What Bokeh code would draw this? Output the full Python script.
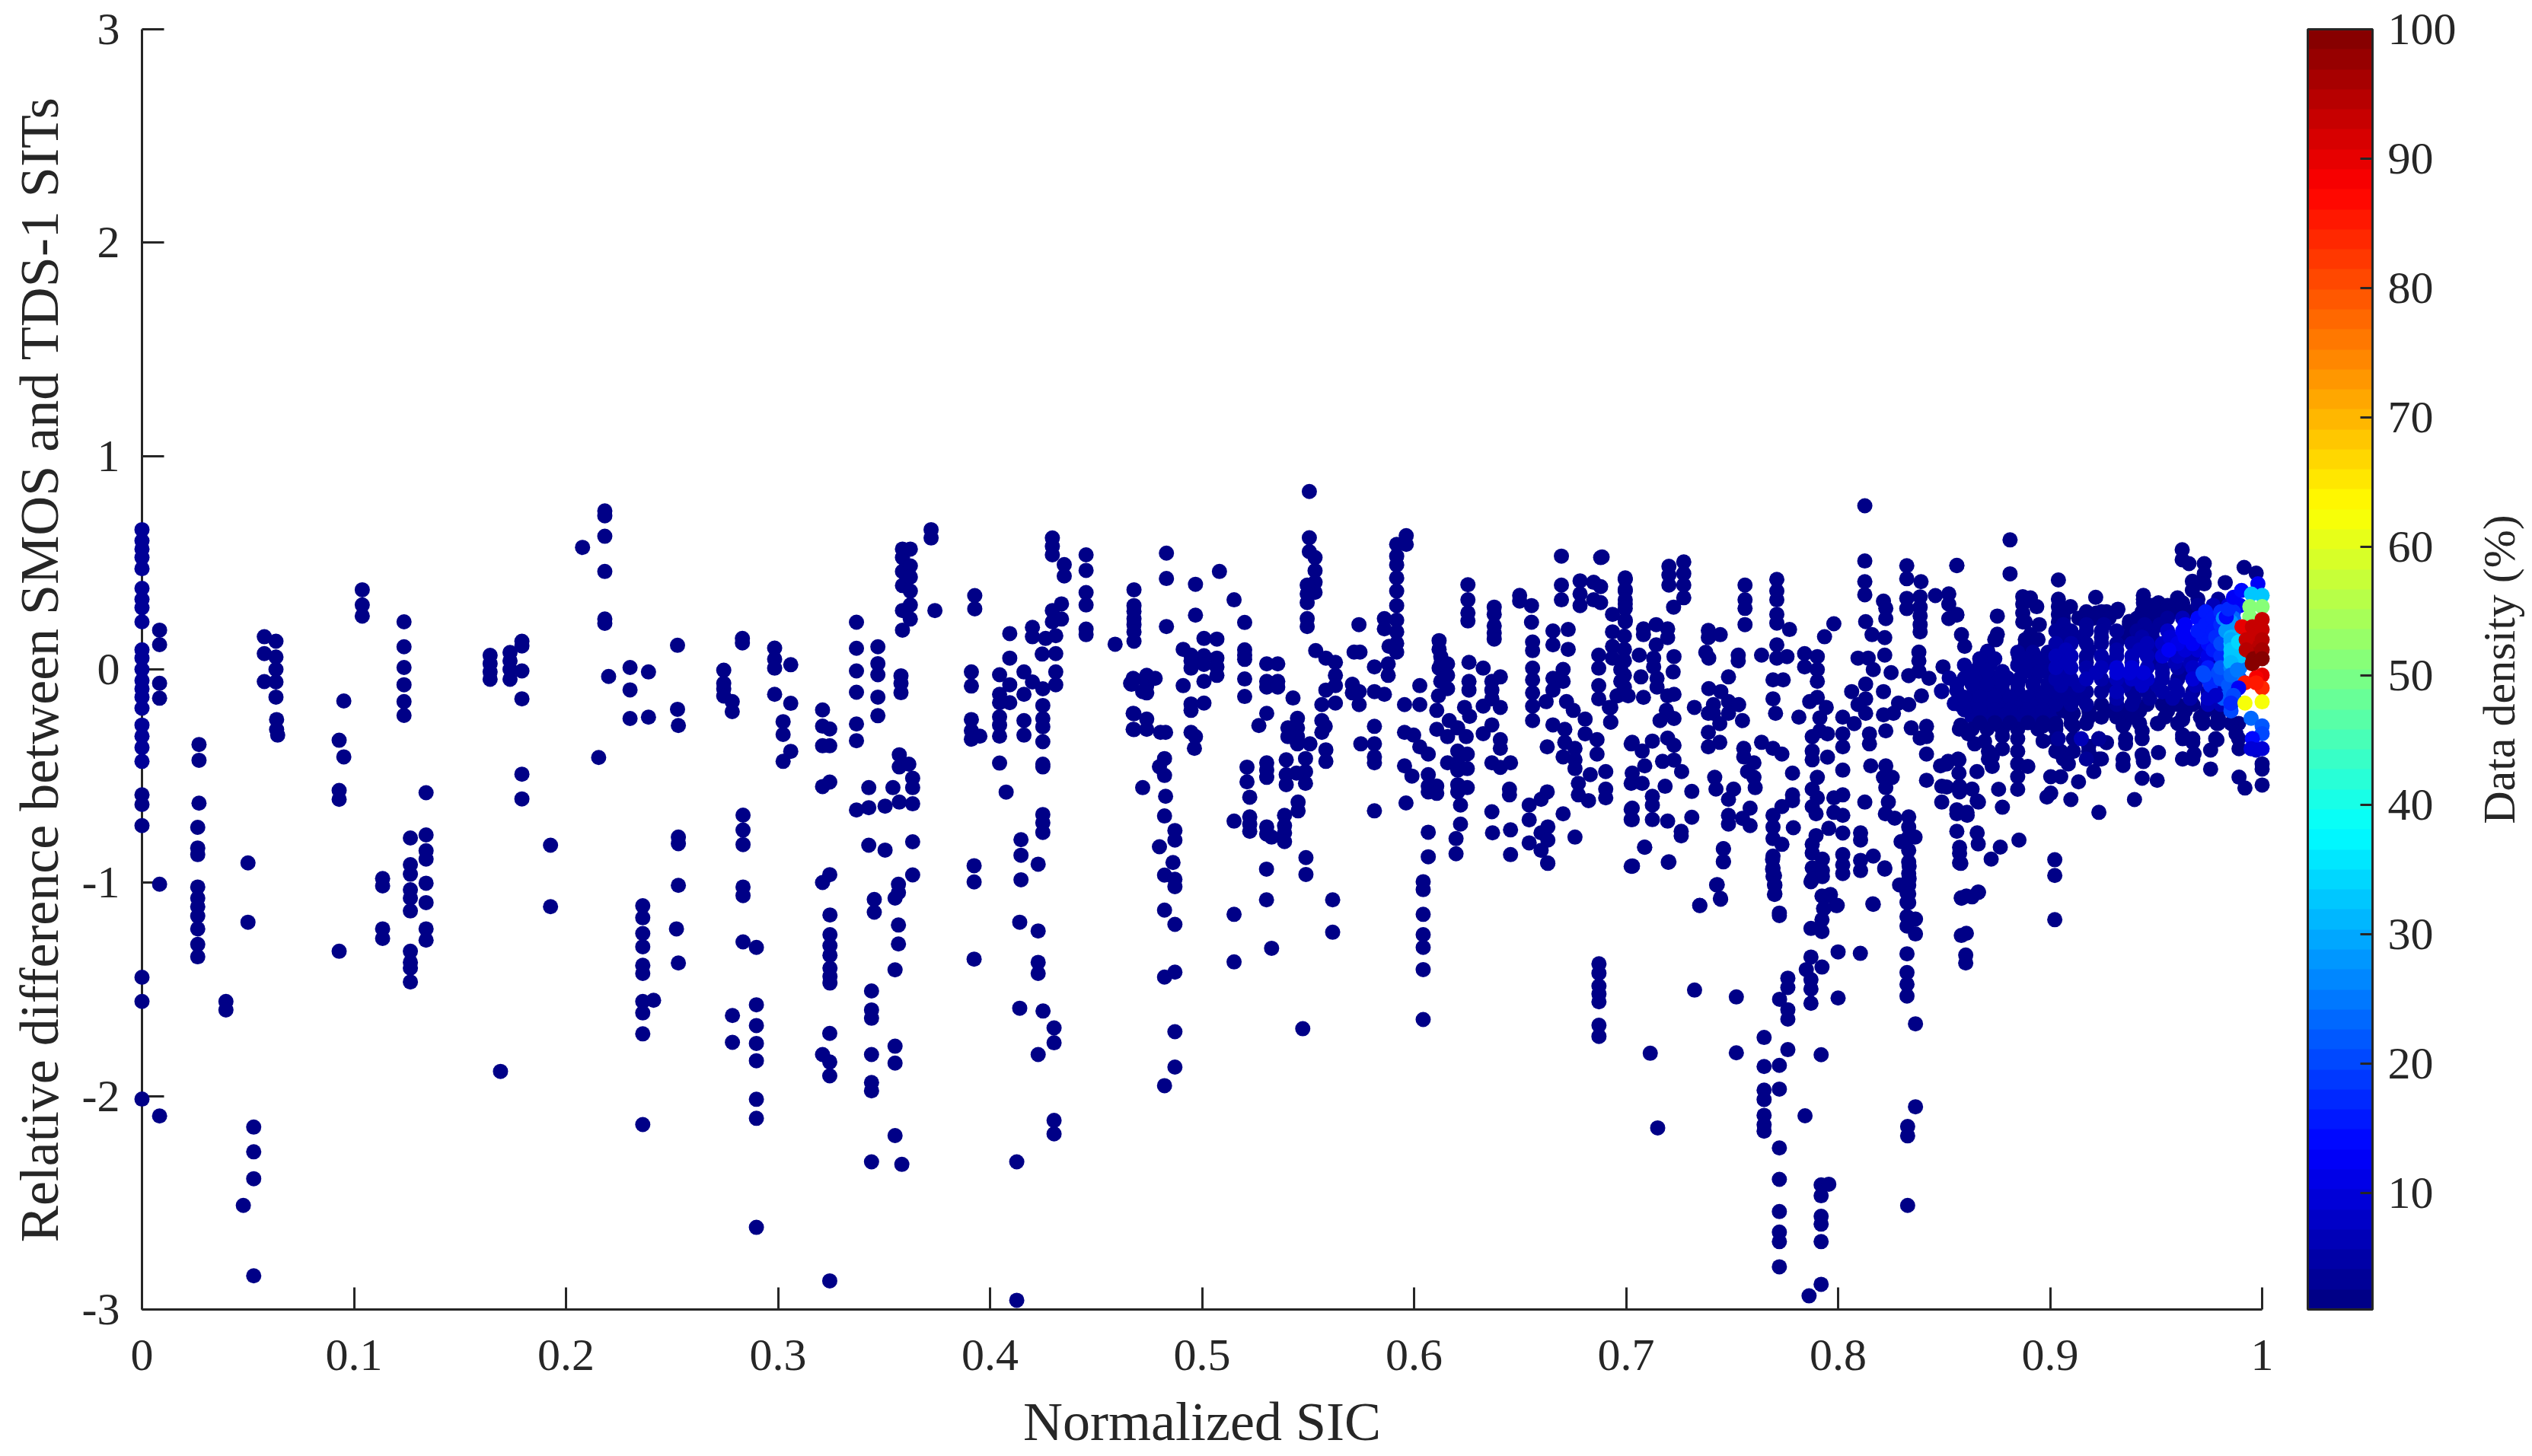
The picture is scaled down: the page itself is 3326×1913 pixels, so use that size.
from bokeh.plotting import figure
from bokeh.models import ColumnDataSource, LinearColorMapper, ColorBar, FixedTicker
from bokeh.transform import transform
from bokeh.core.properties import value
from bokeh.embed import file_html
from bokeh.resources import INLINE
import math

x_tick_values = [0, .1, .2, .3, .4, .5, .6, .7, .8, .9, 1]
x_tick_labels = ["0", "0.1", "0.2", "0.3", "0.4", "0.5", "0.6", "0.7", "0.8", "0.9", "1"]
y_tick_values = [-3, -2, -1, 0, 1, 2, 3]
y_tick_labels = ["-3", "-2", "-1", "0", "1", "2", "3"]
bar_ticks = [10, 20, 30, 40, 50, 60, 70, 80, 90, 100]

# Normalized SIC, relative differences, data density (%) per vertical run of points
edge_col = [(0.0, [.655,.603,.564,.524,.472,.38,.328,.289,.223,.092,.053,0,-.052,-.091,-.13,-.182,-.261,-.313,-.366,-.431], 4),
 (0.0, [-.588,-.633,-.732,-1.443,-1.556,-2.014], 1)]

sparse_low = [
 (.0083,[.184,.116,-.065,-.135,-1.007,-2.093]),(.0269,[-.352,-.426,-.627]),
 (.0263,[-.74,-.837,-.868,-1.02,-1.072,-1.112,-1.156,-1.216,-1.289,-1.347]),(.0396,[-1.556,-1.596]),
 (.05,[-.907,-1.185]),(.0478,[-2.512]),(.0527,[-2.145,-2.261,-2.387,-2.842]),(.0577,[.153,.074,-.057]),
 (.0632,[.132,.058,0,-.059,-.13]),(.0635,[-.235,-.282]),(.064,[-.308]),(.093,[-.332,-.567,-.609,-1.321]),
 (.0952,[-.148,-.41]),(.1039,[.373,.302,.25]),(.1135,[-.98,-1.015,-1.216,-1.261]),
 (.1236,[.223,.106,.009,-.072,-.151,-.216]),(.1266,[-.79,-.915,-.96,-1.033,-1.072,-1.132,-1.321,-1.373,-1.4,-1.465]),
 (.134,[-.578,-.776,-.85,-.889,-1.002,-1.093,-1.216,-1.269]),(.1642,[.066,.027,-.012,-.046]),(.1691,[-1.884]),
 (.1736,[.079,.04,0,-.046]),(.1792,[.132,.11,-.007,-.138,-.491,-.607]),(.1927,[-.824,-1.112]),(.2078,[.572]),
 (.2183,[.743,.72,.624,.459,.236,.216]),(.2201,[-.033]),(.2154,[-.413]),(.2302,[.009,-.096,-.23]),
 (.2389,[-.012,-.224]),(.2362,[-1.108,-1.164,-1.238,-1.3,-1.387,-1.425,-1.556,-1.61,-1.708,-2.133]),(.2413,[-1.551]),
 (.2526,[.113,-.187]),(.253,[-.263,-.786,-.817,-1.012,-1.376]),(.2521,[-1.216]),(.2744,[-.004,-.065,-.091,-.125]),
 (.2784,[-.151,-.198]),(.2832,[.145,.124]),(.2835,[-.683,-.753,-.821,-1.02,-1.06,-1.277]),
 (.2898,[-1.303,-1.572,-1.669,-1.753,-1.834,-2.015,-2.104,-2.615]),(.2785,[-1.622,-1.748]),
 (.2984,[.1,.048,.006,-.117]),(.306,[.022,-.159,-.384]),(.3024,[-.245,-.305,-.431]),
 (.321,[-.19,-.266,-.358,-.549,-.999,-1.805]),(.3244,[-.279,-.358,-.528,-.962,-1.706,-1.84,-1.905,-2.866]),
 (.3245,[-1.151,-1.243,-1.295,-1.34,-1.4,-1.439,-1.47]),(.337,[.221,.099,-.007,-.107,-.256,-.334,-.659]),
 (.3471,[.106,.027,-.025,-.13,-.217]),(.3428,[-.554,-.648,-.824]),(.3505,[-.641,-.847]),(.3542,[-.554]),
 (.3572,[-.4,-.457,-.622]),(.3617,[-.444]),(.3635,[-.51,-.554,-.63,-.808,-.963]),(.3454,[-1.078,-1.138]),
 (.3568,[-1.007,-1.046,-1.198,-1.287]),(.3552,[-1.072,-1.408,-1.766,-1.845,-2.185]),
 (.3441,[-1.507,-1.596,-1.635,-1.805,-1.936,-1.975,-2.308]),(.3584,[-2.32]),(.3587,[.564,.524,.459,.393,.276,.184]),
 (.3624,[.564,.485,.433,.367,.302,.236]),(.358,[-.03,-.065,-.109]),(.3722,[.655,.616]),(.374,[.276]),
 (.3928,[.346,.284]),(.3912,[-.012,-.078,-.235,-.287,-.327]),(.3952,[-.313]),(.3925,[-.92,-.996,-1.358]),
 (.4126,[-2.308,-2.957]),(.4093,[.168,.053,-.072,-.156]),(.4045,[-.025,-.117,-.156,-.222,-.261,-.313,-.439]),
 (.4076,[-.575]),(.416,[-.012,-.117,-.24,-.308]),(.4146,[-.798,-.871,-.986]),(.414,[-1.185,-1.588]),
 (.42,[.197,.153,-.059]),(.4262,[.145]),(.4246,[.072]),(.4249,[-.091,-.169,-.23,-.269,-.339,-.444,-.457,-.68,-.719,-.764]),
 (.4227,[-.913,-1.226,-1.373,-1.425,-1.805]),(.425,[-1.601]),(.4302,[-1.68,-1.75,-2.114,-2.177]),
 (.431,[.158,.074,-.012,-.072]),(.4294,[.616,.577,.537,.276,.223]),(.435,[.491,.438]),(.4337,[.307,.236]),
 (.4453,[.537,.464,.36,.302,.189,.163]),(.459,[.118]),(.4679,[.373,.299,.272,.238,.21,.176,.132,-.046,-.208,-.282]),
 (.4663,[-.065]),(.472,[-.104,-.554]),
 (.4832,[.545,.426,.201]),(.4969,[.399,.254,-.315]),(.5082,[.459]),(.5151,[.326,-.711,-1.148,-1.371]),
 (.5201,[.22,.092,.067,.047,-.045,-.127]),(.5009,[.145,.064,.023,-.056,-.158]),(.507,[.142,.053,.012,-.028]),
 (.4911,[.094,-.076]),(.4948,[.067,.04,.006,-.162,-.192,-.295]),(.4675,[-.042,-.206,-.281]),(.4667,[-.07]),
 (.4739,[-.028,-.076,-.11,-.233,-.281]),(.4779,[-.042]),(.4804,[-.295]),(.4828,[-.295,-.595]),(.4964,[-.37]),
 (.4823,[-.418,-.497,-.687,-.964,-1.128,-1.442,-1.951]),(.4799,[-.456,-.831]),(.4872,[-.755,-.8,-.984,-1.018,-1.195,-1.419,-1.698,-1.864]),(.4863,[-.905]),
 (.5305,[.026,-.056,-.083,-.206,-.438,-.472,-.506,-.738,-.772]),(.5357,[.026,-.056,-.083]),(.5429,[-.134]),(.5268,[-.263]),
 (.545,[-.229,-.274,-.315,-.349]),(.5405,[-.274,-.315]),(.5509,[-.349]),(.5536,[.088]),(.5584,[.053,-.097,-.377,-.431]),
 (.5629,[.033,-.028,-.076,-.158]),(.5565,[-.165,-.24,-.295]),(.5581,[-.267]),(.5397,[-.424,-.493,-.54]),
 (.5488,[-.418,-.479,-.534]),(.5445,[-.486]),(.5212,[-.458,-.527]),(.5225,[-.599,-.691,-.725,-.759]),
 (.5453,[-.622,-.663]),(.5389,[-.684,-.732,-.766,-.807]),(.5328,[-.786,-1.307]),(.549,[-.882,-.961]),(.5304,[-.936,-1.08]),(.5616,[-1.08,-1.232]),(.5475,[-1.684]),
 (.5506,[.834,.617,.552]),(.5533,[.524,.463,.408,.361]),(.5496,[.395,.354,.313,.238,.201]),
 (.5918,[.586,.531,.49,.429,.367,.299,.231,.176,.122,.081]),(.5963,[.627,.586]),(.586,[.238,.19,-.117]),(.5882,[.108]),
 (.574,[.21]),(.5717,[.081]),(.5745,[.081]),(.5878,[.026,-.028]),(.5813,[.012,-.104,-.267,-.349,-.41,-.438,-.663]),
 (.5709,[-.07,-.11]),(.5741,[-.165,-.104]),(.5749,[-.349]),(.5955,[-.165,-.295,-.452]),(.6027,[-.076,-.165,-.363]),
 (.5998,[-.308]),(.6067,[-.397,-.493,-.547,-.574,-.763,-.878]),(.599,[-.5]),(.5962,[-.626]),(.6107,[-.547,-.581,-.192,-.281]),
 (.6043,[-.995,-1.032,-1.148,-1.243,-1.303,-1.407,-1.641]),(.6118,[.135,.094,.006]),(.6126,[.06,.026,-.056]),(.6158,[.026,-.028,-.09,-.315,-.438]),
 (.6115,[-.124]),(.6166,[-.24]),(.6206,[-.274,-.383,-.438,-.472,-.54,-.574]),(.6246,[-.315]),(.6254,[.397,.326,.265,.227]),
 (.6378,[.292,.258,.204,.17,.142]),(.6498,[.347,.32]),(.6554,[.299,.221]),(.6559,[.128,.088,.006,-.049,-.11,-.172,-.24]),
 (.6655,[.18,.115,-.26,-.042,-.097]),(.6727,[.187,.094]),(.6259,[.033,-.056,-.097]),(.6326,[.006,-.172,-.301]),(.6238,[-.178]),
 (.6367,[-.056,-.097,-.138,-.26,-.438,-.667]),(.6407,[-.035,-.178,-.329,-.37,-.459]),(.6262,[-.22]),(.6251,[-.397,-.465,-.554]),
 (.6219,[-.636,-.725]),(.6198,[-.793,-.864]),(.6455,[-.438,-.752,-.868]),(.645,[-.561,-.588]),(.637,[-.766]),
 (.6628,[-.574,-.363]),(.6599,[-.609,-.766,-.848]),(.6543,[-.636,-.705,-.813]),(.6631,[-.738,-.8,-.909]),
 (.6695,[.531,.395,.326]),(.6783,[.415,.354,.299]),(.6847,[.408,.326]),(.688,[.524,.388,.313]),(.6996,[.422,.367,.306,.231,.429,.374,.326,.286,.224]),
 (.6936,[.258,.176,.108,.053]),(.6992,[.156,.094,.04,-.028,-.083]),(.6871,[.067,.006,-.076,-.138]),(.6703,[0,-.056,-.41,-.677]),
 (.6623,[-.151]),(.6719,[-.151]),(.6751,[-.192]),(.6711,[-.281,-.342]),(.6759,[-.37,-.424,-.465,-.786]),(.6807,[-.233,-.302]),
 (.6863,[-.329,-.397]),(.6928,[-.247,-.178]),(.696,[-.124]),(.6831,[-.493]),(.6904,[-.479,-.561,-.602]),(.6775,[-.534,-.588]),
 (.6823,[-.615]),(.7024,[-.349,-.534,-.656,-.704,-.923]),(.6887,[.527]),(.7202,[.483,.442,.395,-.902]),(.7272,[.504,.449,.395,.336]),
 (.7224,[.292]),(.7082,[.19,.163,-.131]),(.7142,[.21,.115]),(.7196,[.19,.149,-.124,-.322,-.711]),(.7062,[.067]),
 (.7226,[.06,-.117,-.23,-.356,-.425]),(.713,[.053,.012]),(.6975,[-.001,-.056]),(.707,[-.035]),(.7222,[-.012]),(.7146,[-.042,-.083]),
 (.6957,[-.124]),(.701,[-.124]),(.719,[-.192]),(.716,[-.24]),(.6921,[-.178]),(.6927,[-.247]),(.7029,[-.342,-.486,-.65,-.704,-.923]),
 (.7124,[-.336,-.595,-.636,-.704]),(.7076,[-.383,-.534]),(.7172,[-.431]),(.7262,[-.479]),(.7088,[-.452,-.834]),(.7184,[-.548]),
 (.731,[-.572,-.693]),(.726,[-.759,-.78]),(.7561,[.395,.326,.286,.21]),(.7711,[.422,.367,.326,.258,.217,.115,.053]),(.7771,[.187]),
 (.798,[.214,-.602,-.67]),(.7936,[.153]),(.7388,[.183,.149,-.206,-.295,-.363]),(.7444,[.163]),(.7376,[.08]),(.739,[.053,-.09]),
 (.7529,[.067,.04]),(.7639,[.067,-.342]),(.7759,[.06]),(.7483,[-.035,-.151,-.206,-.609,-.684,-.725]),(.7447,[-.104]),
 (.7693,[-.049,-.138,-.37,-.684,-.739,-.793,-.875,-.93,-.97]),(.7741,[-.049]),(.7842,[.074,.012]),(.7902,[.06,-.001,-.056,-.131,-.506,-.602]),
 (.7322,[-.178]),(.7412,[-.165,-.206]),(.7531,[-.165]),(.7549,[-.24,-.698]),(.7442,[-.254,-.342]),(.7705,[-.206]),(.7815,[-.224]),
 (.7914,[-.227,-.288]),(.7944,[-.178]),(.7866,[-.151]),(.8022,[-.224,-.302,-.363,-.472,-.588,-.684,-.767,-.868,-.916,-.957]),(.8076,[-.254]),
 (.7878,[-.315,-.383,-.424,-.561,-.643,-.82,-.861,-.93,-.984]),(.795,[-.302,-.411]),(.7896,[-.677,-.779]),(.7956,[-.745,-1.06]),
 (.7926,[-.889,-.943,-.971]),(.8106,[-.8,-.766,-.943,-.895]),(.8166,[-.875,-1.101,-.001]),(.822,[-.93,.149,.067]),
 (.8333,[-.691,-.739,-.786,-.848,-.903,-.957,-1.011,-1.052,-1.093,-.029,-.165]),(.8297,[-.807]),(.8363,[-.786]),(.7932,[-1.066,-1.121]),
 (.7992,[-1.107]),(.7555,[-.37,-.41]),(.7603,[-.438,-.506]),(.7573,[-.479]),(.7609,[-.554]),(.7507,[-.561]),(.7735,[-.397,-.643,-.82]),
 (.7785,[-.486,-.588,-.615]),(.7418,[-.506]),(.7424,[-.561]),(.7585,[-.65,-.732]),(.7459,[-.841,-.902]),(.7789,[-.742]),
 (.7702,[-1.011,-1.052]),(.743,[-1.009]),(.7445,[-1.073]),(.7348,[-1.107]),(.7723,[-1.142]),
 (.8126,[.767,.508,.411,.35,-.622]),(.813,[.224,-.069,-.138,-.206]),(.816,[.163]),(.8214,[.32,-.104,-.213,-.506]),(.8225,[.286,.238,-.288,-.452,-.554]),
 (.8324,[.486,.425,.333,.285]),(.8391,[.411]),(.8387,[.34,.292,.251,.21,.176,-.322]),(.8459,[.346]),(.8522,[.354,.306,.238]),(.856,[.254,.486,-.677,-.759]),
 (.8582,[.163,-1.073]),(.8597,[.108]),(.8094,[.053,-.165]),(.8142,[.053]),(.825,[-.015]),(.8381,[.081,.04,-.008]),(.8495,[.012]),(.8429,[-.042]),
 (.8644,[-.028,-.083,-.349]),(.8573,[-.165,-.574,-.548,-.834,-.907,-.862]),(.8489,[-.104,-.548,-.622]),(.8393,[-.124]),(.8064,[-.104]),(.8285,[-.158]),
 (.8261,[-.206]),(.8148,[-.302,-.349]),(.8345,[-.274]),(.8417,[-.267,-.315,-.397,-.52]),(.8154,[-.452]),(.8255,[-.506]),(.8483,[-.452]),(.8519,[-.431]),
 (.857,[-.424,-.486]),(.8632,[-.561,-1.066]),(.8656,[-.616,-.766]),(.8609,[-.684]),(.8579,[-.909,-.261]),(.8237,[-.622]),(.8223,[-.677]),(.8267,[-.697]),
 (.8662,[-1.045]),(.8614,[-.302]),
 (.6872,[-1.38,-1.424,-1.484,-1.521,-1.558,-1.668,-1.72]),(.7114,[-1.799]),(.7149,[-2.149]),(.7323,[-1.503]),(.752,[-1.535,-1.797]),
 (.7723,[-1.154,-1.856,-1.967,-2.243,-2.39,-2.541,-2.637,-2.682,-2.8]),(.7651,[-1.725,-1.861,-1.972,-2.016,-2.09,-2.134,-2.164]),
 (.7763,[-1.447,-1.491,-1.595,-1.639,-1.782]),(.7724,[-1.546]),(.7872,[-1.348,-1.454,-1.498,-1.565]),(.785,[-1.407]),(.7924,[-1.395]),
 (.8,[-1.324,-1.54]),(.8105,[-1.331]),(.792,[-1.806,-2.416,-2.467,-2.563,-2.6,-2.682,-2.882]),(.7844,[-2.092]),(.7956,[-2.413]),(.7863,[-2.936]),
 (.8325,[-1.333,-1.421,-1.476,-1.531,-1.158,-1.203,-1.092,-1.047]),(.8365,[-1.661,-2.05,-1.24,-1.17]),(.8328,[-2.142,-2.186,-2.512]),
 (.8602,[-1.339,-1.376]),(.8581,[-1.247,-1.07]),(.8605,[-1.237,-1.062]),(.8164,[-1.099]),(.8335,[-.981,-.922]),(.829,[-1.01]),(.822,[-.936]),
 (.8661,[-1.043,-.818]),(.8722,[-.889]),(.8765,[-.833]),(.8853,[-.8,.056]),(.9022,[-.892,-.966,-1.173]),(.7872,[-.995]),(.7924,[-1.062,-1.173,-1.229]),
 (.7964,[-1.055]),(.7996,[-1.106]),(.7932,[-1.121]),(.7872,[-1.214]),(.77,[-.966,-1.01,-1.055]),(.7691,[-.892,-.936]),(.7427,[-1.01]),(.7446,[-1.077]),
 (.7347,[-1.106]),(.7459,[-.9,-.84]),(.7087,[-.833]),(.703,[-.921]),(.7199,[-.904]),(.663,[-.907]),
 (.8811,[.607,.448]),(.856,[.488,.258]),(.9039,[.419,.329,.294,.258,.222]),(.8751,[.25,.165]),(.8745,[.139]),(.8706,[.086]),
 (.8871,[.341,.306,.264,.222]),(.8907,[.335,.163]),(.8937,[.294]),(.8883,[.222,.115]),(.8949,[.21]),(.9215,[.338]),(.9096,[.294]),(.917,[.258]),
 (.9218,[.264]),(.9266,[.27]),(.932,[.282]),(.9374,[.225]),(.944,[.347,.312]),(.9511,[.312]),(.9601,[.335]),(.9625,[.312]),(.9623,[.561,.514]),
 (.9655,[.496]),(.9727,[.496,.448,.401]),(.9671,[.413,.371]),(.9826,[.407]),(.9915,[.478]),(.9972,[.451]),
 (.8668,[.008,-.051,-.099,-.17,-.218]),(.8763,[-.099,-.17,-.218,-.265]),(.8847,[-.063,-.122,-.17,-.218,-.265,-.325,-.384,-.443,-.503,-.562]),
 (.8709,[-.253,-.384,-.42]),(.8775,[-.372,-.312]),(.8691,[-.337]),(.8727,[-.408,-.455]),(.8655,[-.479]),(.8566,[-.42]),
 (.8512,[-.443,-.551]),(.8757,[-.562]),(.8775,[-.646]),(.8662,[-.622]),(.856,[-.658]),(.8608,[-.67]),(.8895,[-.455]),(.8967,[-.206,-.146,-.265,-.336]),
 (.9027,[-.265,-.325,-.384]),(.911,[-.265,-.206,-.384,-.325]),(.9182,[-.36,-.384]),(.923,[-.42,-.325]),(.9266,[-.343]),(.9206,[-.479]),(.9134,[-.527]),
 (.9086,[-.443]),(.905,[-.503,-.384]),(.9003,[-.503,-.58]),(.9098,[-.61]),(.8985,[-.598]),(.923,[-.67]),(.9398,[-.61]),(.9344,[-.45]),(.944,[-.432]),
 (.9511,[-.39]),(.9434,[-.51]),(.9505,[-.52]),(.9356,[-.348]),(.9434,[-.4]),(.9344,[-.265]),(.9434,[-.289]),(.9511,[-.253]),(.9625,[-.307]),(.9673,[-.342]),
 (.9625,[-.42]),(.9679,[-.396]),(.9625,[-.235]),(.9721,[-.241]),(.9787,[-.253]),(.9787,[-.33]),(.9757,[-.378]),(.9757,[-.467]),(.9891,[-.372]),(.9877,[-.301]),
 (.9891,[-.505]),(.9919,[-.556]),(1.0,[-.443,-.467,-.542]),
]

# denser part on the right: difference, SIC values, density
fill_rows = [
 (.14,[.8739,.8883,.8943],2),(.08,[.8703,.8847,.8919,.899],3),(.02,[.8596,.8668,.8715,.8847,.8919,.899],3),
 (-.04,[.8524,.8596,.8668,.8739,.8799,.8859,.8931,.9003],3),(-.1,[.8488,.856,.8644,.8715,.8775,.8847,.8931,.9003],3),
 (-.16,[.8548,.8632,.8703,.8775,.8859,.8943,.9015],3),(-.22,[.8632,.8703,.8775,.8859,.8943,.9015],3),
 (-.28,[.8572,.8632,.8703,.8775,.8847,.8943,.9027],2),
 (.05,[.8668,.8739,.8883,.8955],3),(-.01,[.8632,.8703,.8775,.8883,.8955],3),
 (-.07,[.856,.8632,.8703,.8775,.8847,.8919,.899],3),(-.13,[.8596,.8668,.8739,.8811,.8895,.8967],3),
 (-.19,[.8596,.8668,.8739,.8811,.8895,.8967],3),(-.25,[.8668,.8739,.8811,.8895,.8967],2),
]
blob_y = [.329,.27,.21,.151,.091,.032,-.016,-.075,-.135,-.194,-.253,-.325,-.42,
          .3,.24,.18,.121,.062,.008,-.045,-.105,-.164,-.224]
blob_x = [
 [.9440,.9602,.9697,.9793,.9865],
 [.9063,.9171,.9242,.9314,.9434,.9506,.9602,.9673,.9733,.9805,.9865],
 [.9063,.9171,.9254,.9374,.9446,.9518,.9637,.9733,.9805,.9841],
 [.9063,.9147,.9242,.9362,.9434,.9482,.9566,.9637,.9721,.9781,.9853],
 [.9075,.9183,.9314,.9422,.9482,.956,.9637,.9697,.9769,.9865],
 [.9075,.9171,.929,.9386,.9506,.959,.9661,.9733,.9781,.9853],
 [.9075,.9218,.9314,.9374,.944,.953,.9625,.9721,.9793,.9877],
 [.9051,.9135,.9266,.935,.9434,.9506,.959,.9685,.9757,.9841,.9889],
 [.9063,.9147,.9314,.9398,.947,.9578,.9661,.9745,.9817],
 [.9063,.9183,.9266,.935,.9422,.9554,.9637,.9733,.9793,.9853],
 [.9027,.9099,.9171,.935,.9422,.9506,.9602,.9721,.9793,.9853,.9889],
 [.9039,.9147,.923,.9356,.9434,.9625,.9673,.9781,.9889],
 [.9063,.9171,.9242,.9344,.944,.9625,.9673],
 [.9482,.9554,.9625,.9697,.9769,.9841,.9895],
 [.9063,.9135,.9207,.9278,.941,.9482,.9554,.9625,.9697,.9769,.9817,.9865],
 [.9027,.9099,.9171,.9242,.9314,.941,.9482,.9554,.9625,.9697,.9769,.9829,.9883],
 [.9027,.9099,.9171,.9242,.9314,.9386,.9458,.953,.9602,.9673,.9745,.9805,.9853,.9901],
 [.9027,.9099,.9171,.9242,.9314,.9386,.9458,.953,.9602,.9673,.9745,.9805,.9853,.9895],
 [.9027,.9099,.9171,.9242,.9314,.9386,.9458,.953,.9602,.9673,.9745,.9805,.9853,.9895],
 [.9027,.9099,.9171,.9242,.9314,.9386,.9458,.953,.9602,.9673,.9745,.9805,.9859,.9895],
 [.9027,.9099,.9171,.9242,.9314,.9386,.9458,.953,.9602,.9673,.9745,.9805,.9853],
 [.9027,.9099,.9171,.9242,.9314,.9386,.9458,.953,.9602,.9673,.9745,.9805,.9853],
 [.9099,.9183,.9242,.9314,.9386,.9542,.9625,.9709,.9793],
]
blob_v = [
 [1,1,2,3,4],
 [2,2,2,1,1,1,2,2,15,17,17],
 [3,3,3,1,3,3,12,16,17,28],
 [4,3,3,2,5,4,9,13,15,17,31],
 [6,4,5,6,5,12,9,10,15,33],
 [7,4,5,6,4,7,7,9,6,28],
 [5,6,9,9,9,5,4,20,20,26],
 [5,5,3,5,8,5,5,7,17,22,3],
 [4,3,5,3,3,5,5,8,22],
 [1,2,2,2,2,1,1,2,2,21],
 [2,2,2,2,1,1,1,1,1,2,1],
 [4,6,4,1,1,1,1,1,1],
 [1,3,2,1,1,1,1],
 [2,1,2,3,6,10,12],
 [2,2,2,2,2,2,3,6,14,16,26,24],
 [3,3,3,3,3,3,3,8,13,15,16,28,30],
 [5,5,4,4,4,5,6,8,11,13,14,20,32,33],
 [6,6,4,5,5,6,6,9,8,7,11,18,33,33],
 [6,6,5,7,9,9,7,5,5,8,16,22,26,25],
 [5,5,6,5,7,8,8,5,4,10,18,20,22,22],
 [4,3,3,3,6,4,4,5,5,4,5,8,20],
 [3,3,3,2,3,3,2,2,2,2,6,6,20],
 [2,2,2,1,2,1,1,1,1],
]

dense_x = [.9853,.9853,.9853,.9853,.9853,.9889,.9883,.9865,.9853,.9727,.9781,.9831,.9841,.9865,.9903,.998,1.0,.995,.9942,.9942,1.0,.9905,.9954,.9954,.9954,.9954,.9954,.9925,.9925,.996,1.0,1.0,1.0,1.0,1.0,.9954,1.0,.9972,.9919,1.0,.9972,.9948,1.0,1.0,.9954,.9972,.9948,1.0,.9889,.9865,.9853,1.0,.9919]
dense_y = [.222,.139,.092,.032,-.027,.128,-.003,-.122,-.158,-.027,-.122,.246,.283,.338,.37,.401,.347,.353,.294,.246,.294,.2,.2,.15,.1,.07,.03,.139,.092,.05,.234,.187,.139,.092,.05,.026,-.027,-.039,-.063,-.087,-.063,-.229,-.265,-.301,-.324,-.378,-.372,-.372,-.087,-.122,-.158,-.152,-.158]
dense_v = [28,30,33,31,24,35,25,20,18,20,8,14,17,12,14,12,33,33,52,52,52,90,93,93,94,96,99,93,94,99,93,93,94,96,99,99,90,88,86,84,85,24,22,20,14,8,10,10,12,20,18,62,62]

sic, diff, density = [], [], []
for col_x, col_y in sparse_low:
    for y in col_y:
        sic.append(col_x); diff.append(y); density.append(1)
for col_x, col_y, col_v in edge_col:
    for y in col_y:
        sic.append(col_x); diff.append(y); density.append(col_v)
for row_y, row_x, row_v in fill_rows:
    for x in row_x:
        sic.append(x); diff.append(row_y); density.append(row_v)
# low densities are painted first, as in the dense core of the reference
blob = []
for row_y, row_x, row_v in zip(blob_y, blob_x, blob_v):
    blob.extend((v, x, row_y) for x, v in zip(row_x, row_v))
for v, x, y in sorted(blob, key=lambda t: t[0]):
    sic.append(x); diff.append(y); density.append(v)
for x, y, v in zip(dense_x, dense_y, dense_v):
    sic.append(x); diff.append(y); density.append(v)


def jet(n):
    cols = []
    for i in range(n):
        t = (i + 0.5) / n
        f = lambda c: max(0.0, min(1.0, 1.5 - abs(4 * t - c)))
        cols.append("#%02x%02x%02x" % (round(255 * f(3)), round(255 * f(2)), round(255 * f(1))))
    return cols


INK = "#262626"
FONT = "Liberation Serif"

p = figure(frame_width=2785, frame_height=1682, x_range=(0, 1), y_range=(-3, 3),
           output_backend="svg", toolbar_location=None,
           min_border_left=186, min_border_top=38, min_border_bottom=185, min_border_right=349,
           background_fill_color="white", border_fill_color="white")
p.outline_line_color = None
p.grid.visible = False

mapper = LinearColorMapper(palette=jet(64), low=1, high=100)
src = ColumnDataSource(dict(x=sic, y=diff, v=density))
p.scatter("x", "y", source=src, size=20, marker="circle", line_color=None,
          fill_color=transform("v", mapper), level="overlay")

for ax, vals, labs in ((p.xaxis[0], x_tick_values, x_tick_labels), (p.yaxis[0], y_tick_values, y_tick_labels)):
    ax.ticker = FixedTicker(ticks=vals)
    ax.major_label_overrides = dict(zip(vals, labs))
    ax.axis_line_color = INK
    ax.axis_line_width = 3
    ax.major_tick_line_color = INK
    ax.major_tick_line_width = 3
    ax.major_tick_in = 29
    ax.major_tick_out = 0
    ax.minor_tick_line_color = None
    ax.major_label_text_font = FONT
    ax.major_label_text_font_size = "60px"
    ax.major_label_text_color = INK
    ax.axis_label_text_font = FONT
    ax.axis_label_text_font_size = "72px"
    ax.axis_label_text_font_style = "normal"
    ax.axis_label_text_color = INK
p.xaxis[0].axis_label = "Normalized SIC"
p.yaxis[0].axis_label = "Relative difference between SMOS and TDS-1 SITs"
p.xaxis[0].major_label_standoff = 40
p.yaxis[0].major_label_standoff = 29
p.xaxis[0].axis_label_standoff = 25
p.yaxis[0].axis_label_standoff = 13

cb = ColorBar(color_mapper=mapper, ticker=FixedTicker(ticks=bar_ticks), width=85, height=1682,
              margin=0, padding=0, major_tick_in=16, major_tick_out=0,
              major_tick_line_color=INK, major_tick_line_width=3, minor_tick_line_color=None,
              bar_line_color=INK, bar_line_width=3, border_line_color=None, background_fill_color=None,
              major_label_text_font=FONT, major_label_text_font_size="60px", major_label_text_color=INK,
              label_standoff=20, location=(60, 0))
p.add_layout(cb, "right")

p.text(x=[1.112], y=[0], text=["Data density (%)"], angle=math.pi / 2, text_align="center",
       text_baseline="middle", text_font=value(FONT), text_font_size="60px", text_color=INK, level="overlay")

open("out.html", "w").write(file_html(p, INLINE))
